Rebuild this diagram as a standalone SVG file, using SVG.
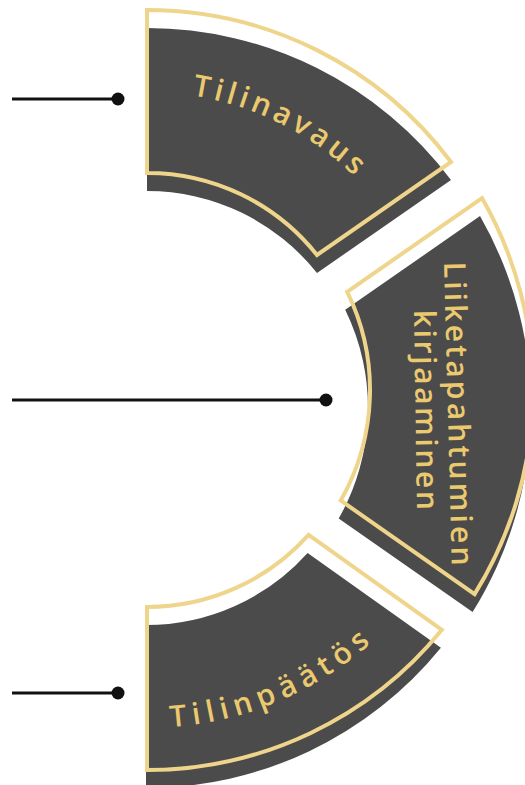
<svg xmlns="http://www.w3.org/2000/svg" xmlns:xlink="http://www.w3.org/1999/xlink" width="525" height="785" viewBox="0 0 525 785">
<style>
.dark{fill:#4b4b4b;stroke:none}
.gold{fill:none;stroke:#efd58b;stroke-width:4;stroke-linejoin:miter}
.lbl{fill:#ebc96f;font-family:"Open Sans","Noto Sans","DejaVu Sans",sans-serif;font-size:30px;font-weight:600}
.conn{stroke:#111;stroke-width:3;fill:none}
.dot{fill:#111}
</style>
<defs>
<path id="seg-top" d="M147,10 A380,380 0 0,1 451,162 L317,255 A217,217 0 0,0 147,173 Z"/>
<path id="seg-mid" d="M347.2,291.8 L482,198.1 A386,386 0 0,1 474.6,594.1 L340.7,500.5 A223,223 0 0,0 347.2,291.8 Z"/>
<path id="seg-bot" d="M308.6,534.9 L441.9,629.8 A380,380 0 0,1 147,770 L147,607 A217,217 0 0,0 308.6,534.9 Z"/>
<path id="tp-top" d="M192,95.5 A298,298 0 0,1 375.5,199.1"/>
<path id="tp-mid1" d="M444,262 L452,572"/>
<path id="tp-mid2" d="M414,310 L417,516"/>
<path id="tp-bot" d="M170.6,727.2 A338,338 0 0,0 390.1,624.8"/>
</defs>
<g id="connectors">
<line class="conn" x1="12" y1="99" x2="118" y2="99"/>
<circle class="dot" cx="118" cy="99" r="6.5"/>
<line class="conn" x1="12" y1="400" x2="326" y2="400"/>
<circle class="dot" cx="326" cy="400" r="6.5"/>
<line class="conn" x1="12" y1="693" x2="118" y2="693"/>
<circle class="dot" cx="118" cy="693" r="6.5"/>
</g>
<g id="node-tilinavaus">
<use href="#seg-top" class="dark" transform="translate(0,18)"/>
<use href="#seg-top" class="gold"/>
<text class="lbl"><textPath href="#tp-top" textLength="184" lengthAdjust="spacing">Tilinavaus</textPath></text>
</g>
<g id="node-liiketapahtumien">
<use href="#seg-mid" class="dark" transform="translate(-2,18)"/>
<use href="#seg-mid" class="gold"/>
<text class="lbl"><textPath href="#tp-mid1" textLength="304" lengthAdjust="spacing">Liiketapahtumien</textPath></text>
<text class="lbl"><textPath href="#tp-mid2" textLength="200" lengthAdjust="spacing">kirjaaminen</textPath></text>
</g>
<g id="node-tilinpaatos">
<use href="#seg-bot" class="dark" transform="translate(-1,18)"/>
<use href="#seg-bot" class="gold"/>
<text class="lbl"><textPath href="#tp-bot" textLength="221" lengthAdjust="spacing">Tilinpäätös</textPath></text>
</g>
</svg>
